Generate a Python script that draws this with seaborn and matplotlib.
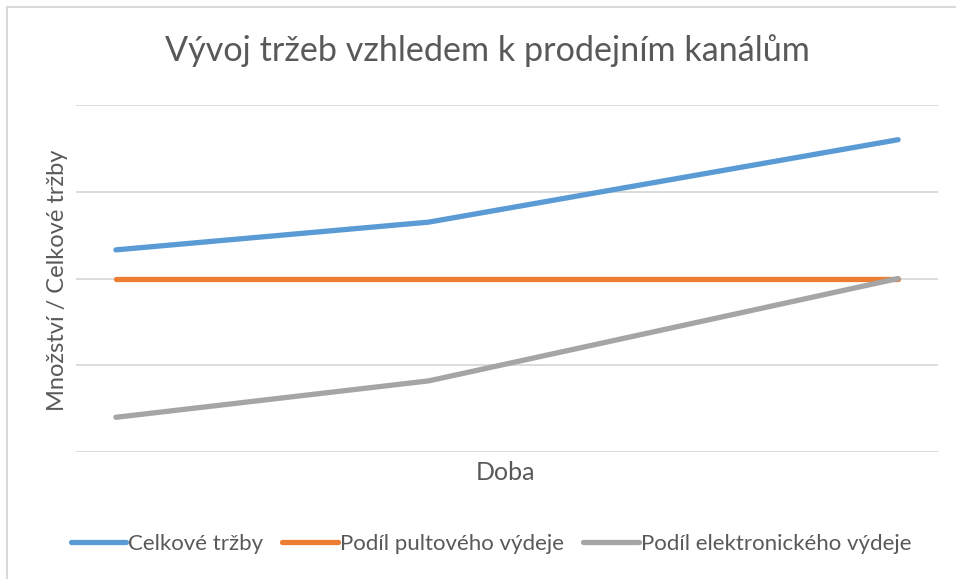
"""
Vývoj tržeb vzhledem k prodejním kanálům - line chart recreation
"""
import numpy as np
import pandas as pd
import matplotlib
matplotlib.use('Agg')
import matplotlib.pyplot as plt
import seaborn as sns
from matplotlib.lines import Line2D

sns.set_theme(style='white')
plt.rcParams['font.family'] = ['Lato', 'DejaVu Sans']

# data (no axis values shown, grid units 0..4)
doba = [0, 4, 10]
celkove_trzby = [2.33, 2.65, 3.60]
podil_pultoveho = [2.00, 2.00, 2.00]
podil_elektronickeho = [0.40, 0.82, 2.00]

series_names = ['Celkové tržby', 'Podíl pultového výdeje', 'Podíl elektronického výdeje']
colors = ['#5b9bd5', '#ed7d31', '#a5a5a5']

df = pd.DataFrame({
    'Doba': doba * 3,
    'Hodnota': celkove_trzby + podil_pultoveho + podil_elektronickeho,
    'Řada': [n for n in series_names for _ in doba],
})

W, H = 956, 579
fig = plt.figure(figsize=(W / 100, H / 100), dpi=100)
ax = fig.add_axes([76 / W, (H - 452) / H, 862 / W, (452 - 105) / H])

sns.lineplot(data=df, x='Doba', y='Hodnota', hue='Řada', palette=colors,
             hue_order=series_names, linewidth=3.8, ax=ax, legend=False,
             solid_capstyle='round')

ax.set_xlim(-0.51, 10.51)
ax.set_ylim(0, 4)
ax.set_yticks([0, 1, 2, 3, 4])
ax.set_xticks([])
ax.set_yticklabels([])
ax.tick_params(left=False, bottom=False)
ax.grid(axis='y', color='#d9d9d9', linewidth=1.3)
ax.set_axisbelow(True)
for s in ax.spines.values():
    s.set_visible(False)

ax.set_xlabel('')
ax.set_ylabel('')
fig.text(506 / W, 1 - 472 / H, 'Doba', ha='center', va='center',
         fontsize=18, color='#595959')
fig.text(58 / W, 1 - 280 / H, 'Množství / Celkové tržby', ha='center', va='center',
         rotation=90, fontsize=17, color='#595959')
fig.text(487 / W, 1 - 51 / H, 'Vývoj tržeb vzhledem k prodejním kanálům',
         ha='center', va='center', fontsize=24.6, color='#595959')

handles = [Line2D([], [], color=c, linewidth=3.8) for c in colors]
fig.legend(handles, series_names, loc='center', bbox_to_anchor=(491 / W, 1 - 544 / H),
           ncol=3, frameon=False, fontsize=16, handlelength=2.5, handletextpad=0.1,
           columnspacing=0.85, labelcolor='#595959')

# light border on left and top, like the chart frame
fig.add_artist(Line2D([7 / W, 7 / W], [0, 1 - 7 / H], color='#d9d9d9', linewidth=1.5))
fig.add_artist(Line2D([7 / W, 1], [1 - 7 / H, 1 - 7 / H], color='#d9d9d9', linewidth=1.5))

fig.savefig('out.png', dpi=100, facecolor='white')
